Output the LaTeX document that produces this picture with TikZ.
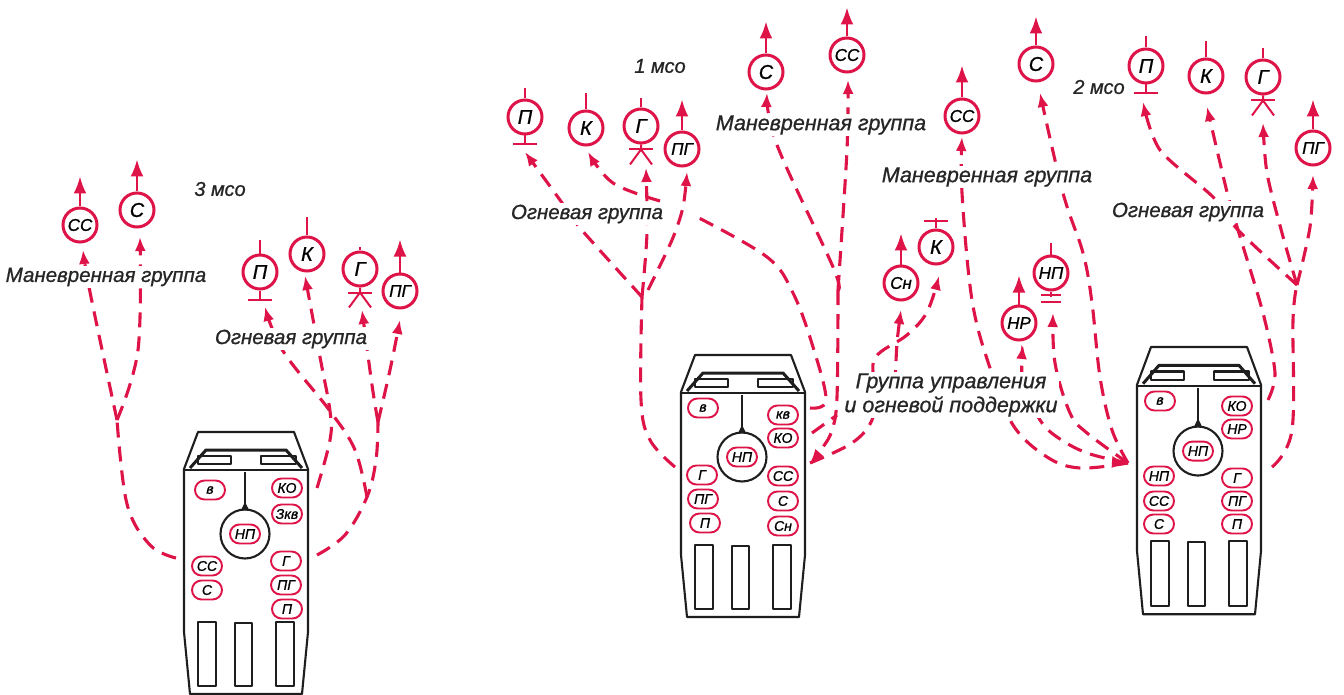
\documentclass[tikz,border=0pt]{standalone}
\usepackage{fontspec}
\usepackage{xcolor}
\usetikzlibrary{arrows.meta,shapes.misc}
\setmainfont[ItalicFeatures={FakeBold=0.9}]{Liberation Sans}
\definecolor{routered}{RGB}{222,20,72}
\definecolor{inkgray}{RGB}{30,30,30}

\tikzset{
  route/.style={draw=routered, line width=3.1pt, dash pattern=on 15pt off 9pt, -{Latex[length=14pt,width=11pt]}},
  plainroute/.style={draw=routered, line width=3.1pt, dash pattern=on 15pt off 9pt},
  stem/.style={draw=routered, line width=2pt},
  go/.style={draw=routered, line width=2.4pt, -{Latex[length=17pt,width=13pt]}},
  unit/.style={circle, draw=routered, line width=3pt, minimum size=34pt, inner sep=0pt, text=black, font=\fontsize{20}{22}\selectfont\itshape},
  unitsmall/.style={unit, font=\fontsize{17}{18}\selectfont\itshape},
  slot/.style={rounded rectangle, draw=routered, line width=1.9pt, minimum width=30pt, minimum height=19pt, inner sep=0pt, text=black, font=\fontsize{14}{15}\selectfont\itshape},
  hullline/.style={draw=inkgray, line width=2.1pt, line join=round},
  lbl/.style={fill=white, inner sep=1.5pt, text=black!85, align=center, font=\fontsize{20.5}{24}\selectfont\itshape},
  lblbig/.style={lbl, font=\fontsize{21.5}{24}\selectfont\itshape},
  tag/.style={text=black!85, inner sep=0pt, font=\fontsize{20}{22}\selectfont\itshape}
}

% hull: name, centre x, roof y, vertical scale
\newcommand{\hull}[4]{
  \begin{scope}[shift={(#2,#3)}, yscale=#4]
    \draw[hullline] (-48,0) -- (48,0) -- (62,37) -- (62,200) -- (56,262) -- (-56,262) -- (-62,200) -- (-62,37) -- cycle;
    \draw[hullline] (-62,38) -- (62,38);
    \draw[hullline, line width=3pt] (-56,36) -- (-40,18) -- (40,18) -- (56,36);
    \draw[hullline] (-48,24) rectangle (-15,32);
    \draw[hullline] (15,24) rectangle (50,32);
    \draw[hullline] (-48,190) rectangle (-30,254);
    \draw[hullline] (-11,191) rectangle (6,254);
    \draw[hullline] (30,190) rectangle (48,254);
    \node[circle, draw=inkgray, line width=2.1pt, minimum size=49pt] (#1np) at (-1,102) {};
    \draw[hullline] (-1,40) -- (#1np.north);
    \fill[inkgray] (-1,70) -- (-5,78) -- (3,78) -- cycle;
    \node[slot] (#1npslot) at (#1np) {НП};
  \end{scope}
}
% marks under a symbol
\newcommand{\barbase}[1]{
  \draw[stem] (#1.south) -- ++(0,9);
  \draw[stem] ([xshift=-12pt,yshift=-9pt]#1.south) -- ([xshift=12pt,yshift=-9pt]#1.south);
}
\newcommand{\crossbase}[1]{
  \draw[stem] ([xshift=-12pt,yshift=-5pt]#1.south) -- ([xshift=12pt,yshift=-5pt]#1.south);
  \draw[stem] (#1.south) -- ++(0,5) -- ++(-11,15);
  \draw[stem] ([yshift=-5pt]#1.south) -- ++(11,15);
}

\begin{document}
\begin{tikzpicture}[x=1pt, y=-1pt]
\useasboundingbox[fill=white] (0,0) rectangle (1344,695);

% vehicles
\hull{a}{246}{432}{1}
\hull{b}{743}{355}{1}
\hull{c}{1199}{347}{1.02}

\node[slot] (a1) at (210,490) {в};
\node[slot] (a2) at (287,488) {КО};
\node[slot] (a3) at (287,514) {Зкв};
\node[slot] (a4) at (207,566) {СС};
\node[slot] (a5) at (207,590) {С};
\node[slot] (a6) at (286,561) {Г};
\node[slot] (a7) at (286,585) {ПГ};
\node[slot] (a8) at (287,609) {П};

\node[slot] (b1) at (703,408) {в};
\node[slot] (b2) at (783,415) {кв};
\node[slot] (b3) at (783,438) {КО};
\node[slot] (b4) at (702,475) {Г};
\node[slot] (b5) at (703,499) {ПГ};
\node[slot] (b6) at (705,523) {П};
\node[slot] (b7) at (783,476) {СС};
\node[slot] (b8) at (783,501) {С};
\node[slot] (b9) at (783,526) {Сн};

\node[slot] (c1) at (1160,401) {в};
\node[slot] (c2) at (1237,406) {КО};
\node[slot] (c3) at (1237,429) {НР};
\node[slot] (c4) at (1159,476) {НП};
\node[slot] (c5) at (1159,501) {СС};
\node[slot] (c6) at (1159,524) {С};
\node[slot] (c7) at (1237,478) {Г};
\node[slot] (c8) at (1237,501) {ПГ};
\node[slot] (c9) at (1237,524) {П};

% symbols, 3 mso
\node[unitsmall] (cc3) at (80,225) {СС};
\node[unit] (s3) at (137,210) {С};
\node[unit] (p3) at (260,272) {П};
\node[unit] (k3) at (307,254) {К};
\node[unit] (g3) at (360,269) {Г};
\node[unitsmall] (pg3) at (400,291) {ПГ};
% symbols, 1 mso
\node[unit] (p1) at (525,117) {П};
\node[unit] (k1) at (586,128) {К};
\node[unit] (g1) at (641,126) {Г};
\node[unitsmall] (pg1) at (682,149) {ПГ};
\node[unit] (s1) at (766,72) {С};
\node[unitsmall] (cc1) at (847,55) {СС};
\node[unitsmall] (sn1) at (901,283) {Сн};
\node[unit] (k4) at (936,247) {К};
% symbols, 2 mso
\node[unit] (s2) at (1036,64) {С};
\node[unit] (p2) at (1146,66) {П};
\node[unit] (k2) at (1206,76) {К};
\node[unit] (g2) at (1263,77) {Г};
\node[unitsmall] (pg2) at (1313,148) {ПГ};
\node[unitsmall] (cc2) at (962,116) {СС};
\node[unitsmall] (np2) at (1051,273) {НП};
\node[unitsmall] (nr2) at (1019,323) {НР};

% stems and arrows above the symbols
\foreach \n/\h in {p3/13,k3/18,g3/3,p1/10,k1/16,g1/9,p2/11,k2/16,g2/10,np2/11,k4/10}
  \draw[stem] (\n.north) -- ++(0,-\h);
\foreach \n/\h in {cc3/30,s3/32,pg3/33,pg1/31,s1/32,cc1/29,sn1/31,s2/29,pg2/30,cc2/32,nr2/29}{
  \coordinate (\n top) at ([yshift=\h pt]\n.north);
  \draw[go] (\n) -- (\n top);
}
\barbase{p3}
\barbase{p1}
\barbase{p2}
\crossbase{g3}
\crossbase{g1}
\crossbase{g2}
\draw[stem] (924,221) -- (948,221);
\draw[stem] (np2.south) -- ++(0,5);
\draw[stem] (1041,295) -- (1061,295);
\draw[stem] (1041,302) -- (1061,302);

% exits, forks and entry points
\coordinate (x3l) at (176,558);
\coordinate (j3l) at (117,420);
\coordinate (x3ko) at (317,488);
\coordinate (x3r) at (317,555);
\coordinate (j3r) at (378,422);
\coordinate (m3) at (367,497);
\coordinate (x1l) at (675,467);
\coordinate (j1) at (642,297);
\coordinate (x1kv) at (810,408);
\coordinate (x1ko) at (812,433);
\coordinate (x1r) at (810,463);
\coordinate (j1s) at (838,290);
\coordinate (e2) at (1128,463);
\coordinate (x2r) at (1272,467);
\coordinate (x2ko) at (1268,400);
\coordinate (j2) at (1297,285);

% 3 mso routes
\draw[plainroute] plot[smooth,tension=.6] coordinates {(x3l) (150,545) (127,504) (j3l)};
\draw[route] plot[smooth,tension=.6] coordinates {(j3l) (90,292) (83,250)};
\draw[route] plot[smooth,tension=.6] coordinates {(j3l) (138,350) (140,237)};
\draw[route] plot[smooth,tension=.6] coordinates {(x3ko) (330,440) (330,411) (320,357) (305,276)};
\draw[route] plot[smooth,tension=.6] coordinates {(m3) (355,450) (330,411) (283,351) (265,307)};
\draw[plainroute] plot[smooth,tension=.6] coordinates {(x3r) (345,535) (m3) (376,460) (j3r)};
\draw[route] plot[smooth,tension=.6] coordinates {(j3r) (372,385) (362,310)};
\draw[route] plot[smooth,tension=.6] coordinates {(j3r) (390,370) (400,320)};

% 1 mso routes
\draw[plainroute] plot[smooth,tension=.6] coordinates {(x1l) (650,440) (641,400) (j1)};
\draw[route] plot[smooth,tension=.4] coordinates {(j1) (580,228) (560,200) (525,152)};
\draw[route] plot[smooth,tension=.5] coordinates {(j1) (647,233) (646,168)};
\draw[route] plot[smooth,tension=.6] coordinates {(660,201) (613,183) (588,152)};
\draw[route] plot[smooth,tension=.5] coordinates {(648,290) (672,240) (683,207) (687,172)};
\draw[plainroute] plot[smooth,tension=.6] coordinates {(x1kv) (826,400) (813,347) (793,293) (767,257) (697,217)};
\draw[plainroute] (x1ko) -- (837,415);
\draw[route] plot[smooth,tension=.6] coordinates {(j1s) (837,397) (832,430) (823,447) (x1r)};
\draw[route] plot[smooth,tension=.6] coordinates {(j1s) (833,267) (777,145) (767,93)};
\draw[route] plot[smooth,tension=.5] coordinates {(j1s) (847,150) (848,80)};
\draw[route] plot[smooth,tension=.6] coordinates {(x1r) (852,443) (872,420) (875,390) (875,358) (907,335) (927,312) (939,276)};
\draw[route] plot[smooth,tension=.5] coordinates {(895,385) (897,343) (901,310)};

% 2 mso routes
\draw[route] plot[smooth,tension=.6] coordinates {(e2) (1080,468) (1047,457) (1013,425) (990,368) (972,300) (962,193) (962,137)};
\draw[route] plot[smooth,tension=.6] coordinates {(e2) (1087,453) (1057,437) (1040,420) (1023,385) (1023,345)};
\draw[route] plot[smooth,tension=.6] coordinates {(e2) (1087,433) (1070,413) (1055,363) (1053,313)};
\draw[route] plot[smooth,tension=.6] coordinates {(e2) (1112,430) (1100,377) (1092,303) (1083,253) (1063,193) (1040,93)};
\draw[plainroute] plot[smooth,tension=.6] coordinates {(x2r) (1292,430) (1293,320) (j2)};
\draw[route] plot[smooth,tension=.5] coordinates {(j2) (1310,227) (1313,175)};
\draw[route] plot[smooth,tension=.5] coordinates {(j2) (1282,233) (1267,173) (1263,123)};
\draw[route] plot[smooth,tension=.5] coordinates {(j2) (1238,230) (1213,197) (1160,150) (1143,102)};
\draw[route] plot[smooth,tension=.5] coordinates {(x2ko) (1275,373) (1263,313) (1238,230) (1227,192) (1207,107)};
\draw[-{Latex[length=16pt,width=12pt]}, draw=routered, line width=3.1pt] (1112,462) -- (e2);

% texts
\node[lbl] (man3) at (106,277) {Маневренная группа};
\node[lbl] (fire3) at (291,339) {Огневая группа};
\node[tag] (title3) at (220,189) {3 мсо};
\node[lblbig] (man1) at (821,125) {Маневренная группа};
\node[lbl] (fire1) at (587,214) {Огневая группа};
\node[tag] (title1) at (660,66) {1 мсо};
\node[lblbig] (man2) at (987,177) {Маневренная группа};
\node[lbl] (fire2) at (1188,212) {Огневая группа};
\node[tag] (title2) at (1099,87) {2 мсо};
\node[lblbig] (ctrl) at (951,395) {Группа управления\\и огневой поддержки};

\end{tikzpicture}
\end{document}
